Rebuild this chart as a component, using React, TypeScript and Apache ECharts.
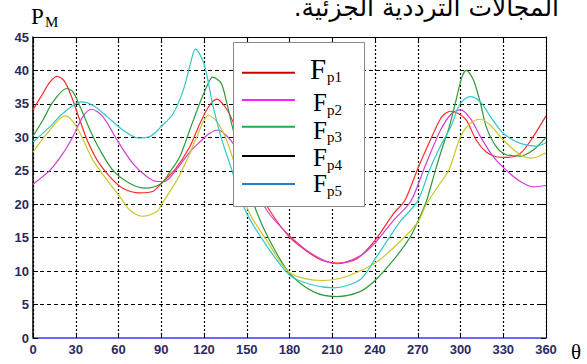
import React, { useEffect, useRef } from "react";
import * as echarts from "echarts";

// theta (deg) vs P_M
const fp1: [number, number][] = [
  [0, 34.1], [7, 36.6], [12, 38.3], [17, 39.1], [22, 38.4], [27, 36.1], [32, 33.1], [38, 29.6],
  [45, 26.6], [54, 24.1], [63, 22.4], [75, 21.7], [84, 21.9], [90, 23.1], [100, 25.3], [110, 28.6],
  [117, 32], [123, 34.5], [129, 35.7], [135, 34.5], [140, 32.5], [150, 27], [158, 22.5], [166, 19.1],
  [180, 15.1], [194, 12.7], [203, 11.6], [213, 11.2], [227, 11.8], [240, 14.6], [253, 18.6], [261, 20.6],
  [270, 25.3], [281, 30.6], [287, 33.1], [293, 33.9], [298, 33.6], [304, 32.6], [311, 29.6], [318, 27.8],
  [325, 27.1], [333, 27], [342, 27.6], [351, 30.1], [360, 33.2],
];
const fp2: [number, number][] = [
  [0, 23], [12, 25.1], [21, 27.6], [28, 30.1], [35, 33.1], [41, 34.2], [49, 33.1], [59, 29.6],
  [70, 26.1], [80, 24.1], [87, 23.4], [92, 23.4], [100, 25], [110, 27.8], [117, 29.3], [124, 30.6],
  [130, 31.1], [136, 30.2], [140, 29.2], [150, 26], [158, 22], [164, 19.1], [180, 15.3], [197, 12.4],
  [213, 11.1], [229, 12.2], [240, 14.2], [253, 17.6], [265, 20.4], [275, 25.6], [286, 31.1], [294, 33.6],
  [300, 34.1], [307, 32.8], [314, 30.1], [323, 27.1], [332, 25.1], [342, 23.4], [351, 22.6], [360, 22.8],
];
const fp3: [number, number][] = [
  [0, 30.2], [7, 32.6], [14, 35.3], [23.6, 37.3], [28, 36.8], [33, 34.6], [40, 31.1], [47, 28.1],
  [56, 25.1], [68, 23.1], [79, 22.4], [90, 23.1], [96, 24.8], [103, 27.1], [110, 31.1], [117, 35.1],
  [123, 38.1], [126, 39], [132, 38.1], [136, 35.1], [140, 31.5], [148, 25], [156.5, 19.1], [166, 14.6],
  [180, 9.7], [197, 6.9], [213, 6.2], [229, 6.9], [240, 8.6], [255, 12.2], [265, 15.2], [270, 17.4],
  [276, 20.4], [282, 24.8], [287, 28.3], [292, 31.5], [296, 34.8], [301, 39], [304, 40], [309, 38.6],
  [314, 35.1], [318, 31.6], [325, 28.6], [332, 27.4], [342, 27.2], [351, 28.1], [360, 30],
];
const fp4: [number, number][] = [
  [0, 27.8], [10, 30.6], [22.5, 33.2], [27, 32.6], [33, 30.6], [42, 26.6], [52, 23.6], [61, 21.1],
  [68, 19.1], [77, 18.2], [87, 18.9], [90, 19.9], [101, 23.6], [108, 26.6], [115, 30.1], [123, 33.3],
  [129, 32.4], [135, 30], [140, 27], [151, 19.1], [164, 14.6], [180, 9.8], [203, 8.6], [220, 9.2],
  [240, 11.2], [255, 13.9], [270, 17.3], [276, 20], [284, 22.6], [292, 25.2], [300, 30.1], [307, 32.1],
  [314, 32.7], [321, 31.8], [330, 29.6], [342, 27.4], [350, 26.9], [360, 27.7],
];
const fp5: [number, number][] = [
  [0, 29.3], [12, 31.6], [21, 33.6], [34, 35.3], [42, 34.8], [52, 33.1], [63, 31.1], [74, 29.9],
  [82, 30.1], [90, 31.6], [98.5, 33.6], [105.5, 37.1], [110, 40.6], [114, 43.2], [120, 41], [126, 35],
  [132, 30], [138, 26.1], [149, 19.1], [162, 14.4], [180, 9.4], [195, 8], [211, 7.5], [229.5, 8.7],
  [240, 11.8], [250, 15], [258, 17.5], [270, 20.5], [278, 25], [285, 28.3], [293, 31.5], [300, 35.1],
  [307, 36.1], [314, 35.3], [321, 33.1], [330, 30.6], [342, 29.1], [353, 28.7], [360, 29.2],
];

const seriesNames = ["Fp1", "Fp2", "Fp3", "Fp4", "Fp5"];
const seriesData = [fp1, fp2, fp3, fp4, fp5];
const curveColors = ["#ff2a2a", "#d23ed2", "#2f9a3a", "#c9c92a", "#30c8c8"];
const legendColors = ["#cc0000", "#ff22ff", "#1fae4a", "#000000", "#1f7fd0"];
const legendSubs = ["p1", "p2", "p3", "p4", "p5"];
const titleText = "المجالات الترددية الجزئية.\u200F";

export default function App() {
  const ref = useRef<HTMLDivElement>(null);
  useEffect(() => {
    document.body.style.margin = "0";
    const chart = echarts.init(ref.current!, undefined, { renderer: "svg" });
    const serif = "'Liberation Serif', 'Times New Roman', serif";
    const legendLineY = [72.7, 100, 126.7, 156, 184];
    const fBase = [78.3, 111, 138.3, 165.7, 192];
    const Z = 100;
    const legendChildren: any[] = [
      {
        type: "rect", z: Z,
        shape: { x: 233.5, y: 42.5, width: 131, height: 164 },
        style: { fill: "#fff", stroke: "#8a8a8a", lineWidth: 1 },
      },
    ];
    legendColors.forEach((c, i) => {
      const fs = i === 0 ? 29 : 25;
      legendChildren.push({
        type: "line", z: Z + 1,
        shape: { x1: 242, y1: legendLineY[i], x2: 295, y2: legendLineY[i] },
        style: { stroke: c, lineWidth: 2 },
      });
      legendChildren.push({
        type: "text", z: Z + 1,
        x: i === 0 ? 310 : 313,
        y: fBase[i] - fs * 0.33,
        style: { text: "F", fontSize: fs, fontFamily: serif, fill: "#000", align: "left", verticalAlign: "middle" },
      });
      legendChildren.push({
        type: "text", z: Z + 1,
        x: 327,
        y: fBase[i] + 4 - 15 * 0.33,
        style: { text: legendSubs[i], fontSize: 15, fontFamily: serif, fill: "#000", align: "left", verticalAlign: "middle" },
      });
    });

    const labelStyle = { color: "#2a2a60", fontSize: 13, fontWeight: "bold", fontFamily: "'Liberation Sans', Arial" };

    const option: any = {
      animation: false,
      grid: { left: 33, right: 41, top: 37, bottom: 26, containLabel: false },
      xAxis: [
        {
          type: "value", min: 0, max: 360, interval: 30, position: "bottom",
          axisLine: { show: true, onZero: false, lineStyle: { color: "#6b6bf0", width: 2 } },
          axisTick: { show: true, inside: true, length: 5, lineStyle: { color: "#000" } },
          axisLabel: { ...labelStyle, margin: 5 },
          splitLine: { show: true, lineStyle: { color: "#000", type: [2, 2], width: 1.2 } },
        },
        {
          type: "value", min: 0, max: 360, interval: 30, position: "top",
          axisLine: { show: true, onZero: false, lineStyle: { color: "#000", width: 1 } },
          axisTick: { show: true, inside: true, length: 5, lineStyle: { color: "#000" } },
          axisLabel: { show: false },
          splitLine: { show: false },
        },
      ],
      yAxis: [
        {
          type: "value", min: 0, max: 45, interval: 5, position: "left",
          axisLine: { show: true, onZero: false, lineStyle: { color: "#000", width: 1.5 } },
          axisTick: { show: true, inside: true, length: 5, lineStyle: { color: "#000" } },
          axisLabel: { ...labelStyle, margin: 4 },
          splitLine: { show: true, lineStyle: { color: "#000", type: [4, 3], width: 1.2 } },
        },
        {
          type: "value", min: 0, max: 45, interval: 5, position: "right",
          axisLine: { show: true, onZero: false, lineStyle: { color: "#000", width: 1 } },
          axisTick: { show: true, inside: true, length: 5, lineStyle: { color: "#000" } },
          axisLabel: { show: false },
          splitLine: { show: false },
        },
      ],
      series: seriesData.map((d, i) => ({
        name: seriesNames[i],
        type: "line",
        xAxisIndex: 0,
        yAxisIndex: 0,
        data: d,
        smooth: 0.3,
        showSymbol: false,
        color: curveColors[i],
        lineStyle: { color: curveColors[i], width: 1.2 },
        z: 3,
      })),
      graphic: [
        { type: "group", z: Z, children: legendChildren },
        {
          type: "text", x: 559, y: 7, z: Z,
          style: { text: titleText, fontSize: 25, fontFamily: "'DejaVu Sans', sans-serif", fill: "#000", align: "right", verticalAlign: "middle" },
        },
        {
          type: "text", x: 31, y: 16, z: Z,
          style: { text: "P", fontSize: 23, fontFamily: serif, fill: "#000", align: "left", verticalAlign: "middle" },
        },
        {
          type: "text", x: 45, y: 21.7, z: Z,
          style: { text: "M", fontSize: 15, fontFamily: serif, fill: "#000", align: "left", verticalAlign: "middle" },
        },
        {
          type: "text", x: 571, y: 352, z: Z,
          style: { text: "θ", fontSize: 21, fontFamily: serif, fill: "#000", align: "left", verticalAlign: "middle" },
        },
      ],
    };
    chart.setOption(option);
    return () => chart.dispose();
  }, []);
  return <div ref={ref} style={{ width: 587, height: 364 }} />;
}
